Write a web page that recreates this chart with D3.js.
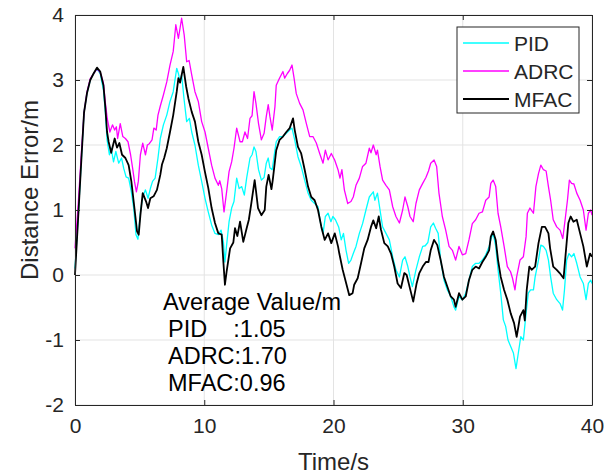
<!DOCTYPE html>
<html lang="en">
<head>
<meta charset="UTF-8">
<title>Distance Error</title>
<script src="https://d3js.org/d3.v7.min.js"></script>
<style>
  body { margin: 0; background: #fff; }
  svg text { font-family: "Liberation Sans", Arial, sans-serif; fill: #262626; }
</style>
</head>
<body>
<svg id="chart" width="616" height="476"></svg>
<script>
// series: [time s, error m]
const pid = [[0,0.1],[0.25,0.9],[0.5,1.8],[0.7,2.5],[0.93,2.8],[1.18,3.0],[1.44,3.1],[1.7,3.17],[1.95,3.1],[2.2,2.85],[2.35,2.5],[2.48,2.08],[2.66,1.85],[2.8,1.95],[2.98,1.74],[3.16,1.9],[3.38,1.72],[3.6,1.8],[3.77,1.64],[3.95,1.51],[4.15,1.49],[4.36,1.28],[4.54,1.03],[4.72,0.62],[4.87,0.55],[5.06,0.97],[5.24,1.2],[5.45,1.31],[5.65,1.18],[5.83,1.33],[6.0,1.44],[6.2,1.49],[6.42,1.8],[6.6,2.1],[6.84,2.31],[7.1,2.46],[7.35,2.67],[7.6,2.82],[7.87,3.18],[8.0,3.1],[8.13,2.97],[8.25,3.08],[8.43,2.72],[8.64,2.36],[8.85,2.41],[9.03,2.2],[9.28,2.0],[9.54,1.69],[9.8,1.44],[10.06,1.18],[10.31,0.97],[10.57,0.77],[10.83,0.64],[11.09,0.62],[11.3,0.69],[11.48,0.51],[11.6,0.2],[11.73,0.46],[11.92,0.82],[12.12,1.03],[12.3,1.13],[12.51,1.49],[12.7,1.33],[12.9,1.36],[13.1,1.23],[13.28,1.49],[13.54,1.8],[13.7,1.85],[13.85,1.97],[14.0,1.9],[14.2,1.62],[14.42,1.46],[14.63,1.5],[14.8,1.72],[14.95,1.8],[15.08,1.65],[15.26,1.62],[15.47,1.92],[15.57,2.05],[15.83,2.13],[16.09,2.13],[16.35,2.18],[16.61,2.23],[16.79,2.26],[17.0,2.08],[17.25,1.82],[17.5,1.67],[17.77,1.46],[18.03,1.26],[18.28,1.15],[18.54,1.1],[18.8,1.05],[19.0,0.8],[19.19,0.64],[19.37,0.9],[19.58,0.95],[19.8,0.82],[19.95,0.9],[20.15,0.85],[20.4,0.74],[20.6,0.54],[20.77,0.64],[20.97,0.38],[21.17,0.18],[21.35,0.23],[21.53,0.33],[21.74,0.44],[22.0,0.64],[22.25,0.79],[22.51,1.0],[22.77,1.2],[23.08,1.28],[23.2,1.15],[23.4,1.26],[23.6,1.0],[23.8,0.74],[24.06,0.64],[24.32,0.54],[24.58,0.28],[24.83,0.08],[25.1,-0.03],[25.35,0.23],[25.53,0.28],[25.75,0.13],[25.92,-0.03],[26.1,-0.18],[26.38,0.08],[26.64,0.28],[26.9,0.44],[27.1,0.45],[27.3,0.5],[27.52,0.74],[27.73,0.8],[27.9,0.72],[28.1,0.64],[28.29,0.23],[28.55,-0.08],[28.81,-0.23],[29.07,-0.33],[29.32,-0.49],[29.45,-0.54],[29.71,-0.33],[29.97,-0.38],[30.23,-0.28],[30.48,-0.08],[30.74,0.13],[31.0,0.18],[31.26,0.18],[31.52,0.23],[31.78,0.31],[32.04,0.44],[32.17,0.54],[32.35,0.64],[32.55,0.44],[32.73,0.08],[32.94,-0.28],[33.14,-0.69],[33.32,-0.79],[33.5,-1.0],[33.71,-1.1],[33.92,-1.2],[34.12,-1.44],[34.3,-1.2],[34.49,-0.95],[34.69,-1.0],[34.9,-0.59],[35.07,-0.28],[35.25,-0.23],[35.47,-0.23],[35.6,-0.03],[35.86,0.23],[36.04,0.46],[36.24,0.44],[36.45,0.38],[36.63,0.23],[36.8,-0.03],[37.0,-0.28],[37.27,-0.38],[37.53,-0.44],[37.72,-0.54],[37.87,-0.23],[38.04,0.23],[38.22,0.33],[38.42,0.28],[38.6,0.33],[38.82,0.18],[39.08,-0.03],[39.33,-0.13],[39.54,-0.38],[39.72,-0.13],[39.9,-0.08],[40,-0.13]];

const adrc = [[0,0.41],[0.25,1.1],[0.5,1.9],[0.7,2.5],[0.93,2.82],[1.18,3.02],[1.44,3.1],[1.7,3.17],[1.95,3.12],[2.2,2.95],[2.35,2.65],[2.5,2.4],[2.7,2.2],[2.9,2.31],[3.07,2.23],[3.2,2.28],[3.3,2.1],[3.5,2.33],[3.7,2.13],[3.9,2.1],[4.1,2.05],[4.3,1.85],[4.46,1.64],[4.6,1.44],[4.75,1.28],[4.9,1.44],[5.06,1.85],[5.24,2.03],[5.45,1.85],[5.6,2.0],[5.75,2.02],[5.96,2.08],[6.1,2.26],[6.28,2.23],[6.42,2.46],[6.6,2.6],[6.84,2.77],[7.1,2.97],[7.35,3.23],[7.6,3.44],[7.8,3.85],[8.0,3.64],[8.13,3.8],[8.25,3.95],[8.45,3.69],[8.64,3.28],[8.83,3.3],[9.03,3.08],[9.28,2.82],[9.54,2.67],[9.8,2.36],[10.06,2.2],[10.31,1.95],[10.57,1.69],[10.83,1.49],[11.09,1.38],[11.2,1.45],[11.35,1.33],[11.53,0.97],[11.73,1.28],[11.92,1.59],[12.12,1.74],[12.3,1.95],[12.51,2.26],[12.77,2.05],[12.95,2.05],[13.15,2.2],[13.35,2.1],[13.54,2.41],[13.7,2.45],[13.85,2.82],[14.0,2.64],[14.2,2.33],[14.42,2.08],[14.63,2.18],[14.8,2.44],[14.95,2.62],[15.08,2.44],[15.26,2.23],[15.47,2.59],[15.57,2.92],[15.83,3.03],[16.09,3.13],[16.22,3.03],[16.43,3.1],[16.61,3.15],[16.79,3.23],[16.95,3.03],[17.12,2.79],[17.38,2.64],[17.64,2.54],[17.9,2.33],[18.16,2.13],[18.41,2.13],[18.67,2.03],[18.93,1.87],[19.19,1.72],[19.37,1.92],[19.58,1.77],[19.83,1.87],[20.09,1.77],[20.35,1.62],[20.5,1.49],[20.65,1.62],[20.84,1.31],[21.1,1.1],[21.35,1.13],[21.53,1.2],[21.74,1.38],[22.0,1.49],[22.25,1.67],[22.51,1.72],[22.77,1.95],[22.9,1.88],[23.08,2.0],[23.3,1.85],[23.4,1.92],[23.6,1.67],[23.8,1.46],[24.06,1.38],[24.32,1.31],[24.58,1.05],[24.83,0.9],[25.1,0.8],[25.35,1.0],[25.53,1.2],[25.75,1.05],[25.92,0.9],[26.17,0.82],[26.38,1.1],[26.64,1.31],[26.9,1.41],[27.15,1.5],[27.35,1.6],[27.52,1.72],[27.78,1.77],[27.98,1.67],[28.16,1.26],[28.42,0.9],[28.68,0.69],[28.94,0.44],[29.2,0.38],[29.45,0.23],[29.71,0.44],[29.97,0.31],[30.23,0.33],[30.48,0.54],[30.74,0.79],[31.0,0.85],[31.26,0.95],[31.52,0.97],[31.78,1.15],[32.04,1.2],[32.17,1.41],[32.35,1.46],[32.55,1.36],[32.73,0.95],[32.94,0.74],[33.2,0.44],[33.45,0.13],[33.7,0.05],[33.85,-0.05],[34.04,-0.23],[34.17,-0.03],[34.43,0.23],[34.69,0.28],[34.9,0.59],[35.0,0.95],[35.2,1.03],[35.47,0.95],[35.66,1.36],[35.86,1.56],[36.04,1.69],[36.24,1.62],[36.45,1.6],[36.63,1.36],[36.8,1.15],[37.0,0.85],[37.27,0.74],[37.53,0.69],[37.74,0.56],[37.92,0.85],[38.1,1.15],[38.25,1.46],[38.42,1.41],[38.6,1.4],[38.82,1.26],[39.08,1.15],[39.33,1.0],[39.54,0.69],[39.72,0.95],[39.9,1.0],[40,0.92]];

const mfac = [[0,0],[0.25,0.9],[0.5,1.8],[0.7,2.5],[0.93,2.8],[1.18,3.0],[1.44,3.1],[1.7,3.19],[1.95,3.13],[2.2,2.92],[2.35,2.57],[2.48,2.2],[2.6,2.05],[2.8,1.88],[3.07,2.1],[3.25,1.96],[3.43,2.03],[3.64,1.85],[3.9,1.8],[4.15,1.69],[4.36,1.44],[4.54,1.13],[4.8,0.67],[4.93,0.62],[5.06,0.92],[5.24,1.26],[5.5,1.13],[5.65,1.03],[5.83,1.18],[6.08,1.21],[6.34,1.31],[6.6,1.54],[6.73,1.7],[6.9,1.8],[7.1,1.95],[7.35,2.2],[7.6,2.46],[7.87,2.82],[8.0,3.03],[8.13,2.96],[8.38,3.2],[8.6,2.9],[8.77,2.72],[9.03,2.51],[9.28,2.36],[9.54,2.05],[9.8,1.85],[10.05,1.59],[10.31,1.34],[10.57,1.03],[10.83,0.8],[11.09,0.64],[11.35,0.62],[11.48,0.2],[11.6,-0.15],[11.73,0.05],[12.0,0.41],[12.25,0.5],[12.38,0.72],[12.56,0.6],[12.77,0.82],[13.02,0.51],[13.28,0.72],[13.45,0.85],[13.64,1.1],[13.9,1.46],[14.0,1.3],[14.16,1.03],[14.42,0.92],[14.68,1.0],[14.8,1.36],[14.98,1.54],[15.2,1.32],[15.3,1.46],[15.57,1.92],[15.83,2.08],[16.09,2.13],[16.35,2.2],[16.61,2.26],[16.87,2.41],[17.0,2.23],[17.25,1.97],[17.5,1.87],[17.77,1.62],[18.03,1.36],[18.28,1.2],[18.54,1.15],[18.8,1.0],[19.06,0.74],[19.32,0.54],[19.58,0.64],[19.83,0.49],[20.1,0.64],[20.35,0.44],[20.45,0.33],[20.71,0.08],[20.97,-0.12],[21.22,-0.31],[21.48,-0.28],[21.6,-0.15],[21.87,-0.05],[22.13,0.18],[22.38,0.41],[22.64,0.54],[22.9,0.74],[23.08,0.84],[23.3,0.72],[23.5,0.9],[23.67,0.7],[23.93,0.49],[24.2,0.44],[24.45,0.33],[24.7,0.13],[24.96,-0.13],[25.22,-0.2],[25.48,0.03],[25.66,0.0],[25.92,-0.21],[26.17,-0.41],[26.43,-0.13],[26.64,0.03],[26.9,0.13],[27.15,0.2],[27.35,0.2],[27.52,0.38],[27.78,0.54],[28.03,0.46],[28.29,0.23],[28.55,-0.03],[28.81,-0.18],[29.07,-0.33],[29.32,-0.38],[29.45,-0.49],[29.71,-0.28],[29.97,-0.38],[30.23,-0.33],[30.48,-0.08],[30.74,0.08],[31.0,0.13],[31.26,0.1],[31.52,0.2],[31.78,0.28],[32.04,0.38],[32.17,0.59],[32.35,0.67],[32.55,0.54],[32.73,0.23],[32.94,-0.03],[33.2,-0.23],[33.45,-0.38],[33.71,-0.59],[33.97,-0.74],[34.17,-0.95],[34.3,-0.8],[34.43,-0.64],[34.69,-0.54],[34.8,-0.7],[34.95,-0.23],[35.15,0.13],[35.33,0.08],[35.6,0.13],[35.86,0.49],[36.12,0.74],[36.37,0.74],[36.63,0.64],[36.76,0.41],[37.0,0.13],[37.27,0.08],[37.5,0.03],[37.8,-0.05],[37.9,0.18],[38.17,0.8],[38.35,0.9],[38.56,0.82],[38.82,0.85],[39.08,0.64],[39.33,0.44],[39.6,0.13],[39.85,0.33],[40,0.28]];

const seriesNames = ["PID", "ADRC", "MFAC"];
const seriesColors = ["#00ffff", "#ff00ff", "#000000"];
const seriesWidths = [1.3, 1.3, 1.8];
const xTicks = [0, 10, 20, 30, 40];
const yTicks = [-2, -1, 0, 1, 2, 3, 4];
const notes = ["Average Value/m", "PID    :1.05", "ADRC:1.70", "MFAC:0.96"];

const svg = d3.select("#chart");
const plotL = 75, plotR = 592, plotT = 15, plotB = 405;

const x = d3.scaleLinear().domain([0, 40]).range([plotL, plotR]);
const y = d3.scaleLinear().domain([-2, 4]).range([plotB, plotT]);

// grid
svg.append("g").selectAll("line").data(xTicks).enter().append("line")
    .attr("x1", d => x(d)).attr("x2", d => x(d))
    .attr("y1", plotT).attr("y2", plotB)
    .attr("stroke", "#e3e3e3").attr("stroke-width", 1);
svg.append("g").selectAll("line").data(yTicks).enter().append("line")
    .attr("x1", plotL).attr("x2", plotR)
    .attr("y1", d => y(d)).attr("y2", d => y(d))
    .attr("stroke", "#e3e3e3").attr("stroke-width", 1);

// data lines, in legend order so MFAC ends on top
const line = d3.line().x(d => x(d[0])).y(d => y(d[1]));
[pid, adrc, mfac].forEach((s, i) => {
    svg.append("path")
        .datum(s)
        .attr("d", line)
        .attr("fill", "none")
        .attr("stroke", seriesColors[i])
        .attr("stroke-width", seriesWidths[i])
        .attr("stroke-linejoin", "round");
});

// axes (ticks point inward, box on)
const axisStyle = g => {
    g.selectAll(".domain").attr("stroke", "#262626");
    g.selectAll(".tick line").attr("stroke", "#262626");
    g.selectAll("text").style("font-size", "21px").attr("fill", "#262626")
        .style("font-family", "'Liberation Sans', Arial, sans-serif");
};
const fmt = d => String(d);
svg.append("g").attr("transform", `translate(0,${plotB})`)
    .call(d3.axisBottom(x).tickValues(xTicks).tickFormat(fmt).tickSizeInner(-5).tickSizeOuter(0).tickPadding(13))
    .call(axisStyle);
svg.append("g").attr("transform", `translate(0,${plotT})`)
    .call(d3.axisTop(x).tickValues(xTicks).tickSizeInner(-5).tickSizeOuter(0).tickFormat(""))
    .call(axisStyle);
svg.append("g").attr("transform", `translate(${plotL},0)`)
    .call(d3.axisLeft(y).tickValues(yTicks).tickFormat(fmt).tickSizeInner(-5).tickSizeOuter(0).tickPadding(11))
    .call(axisStyle);
svg.append("g").attr("transform", `translate(${plotR},0)`)
    .call(d3.axisRight(y).tickValues(yTicks).tickSizeInner(-5).tickSizeOuter(0).tickFormat(""))
    .call(axisStyle);

// axis titles
svg.append("text").attr("x", (plotL + plotR) / 2).attr("y", 470)
    .attr("text-anchor", "middle").style("font-size", "24px").text("Time/s");
svg.append("text").attr("transform", `translate(38,${(plotT + plotB) / 2 - 20}) rotate(-90)`)
    .attr("text-anchor", "middle").style("font-size", "24px").text("Distance Error/m");

// legend
const lg = svg.append("g");
lg.append("rect").attr("x", 457).attr("y", 27).attr("width", 122).attr("height", 86)
    .attr("fill", "#fff").attr("stroke", "#262626").attr("stroke-width", 1);
seriesNames.forEach((n, i) => {
    const cy = 43 + i * 28;
    lg.append("line").attr("x1", 463).attr("x2", 509).attr("y1", cy).attr("y2", cy)
        .attr("stroke", seriesColors[i]).attr("stroke-width", seriesWidths[i]);
    lg.append("text").attr("x", 514).attr("y", cy + 7.5).style("font-size", "21px").text(n);
});

// average value note
svg.append("g").selectAll("text").data(notes).enter().append("text")
    .attr("x", (d, i) => i === 0 ? 163 : 168)
    .attr("y", (d, i) => 310 + i * 27)
    .style("font-size", "23.5px")
    .style("white-space", "pre")
    .style("fill", "#000")
    .text(d => d);
</script>
</body>
</html>
